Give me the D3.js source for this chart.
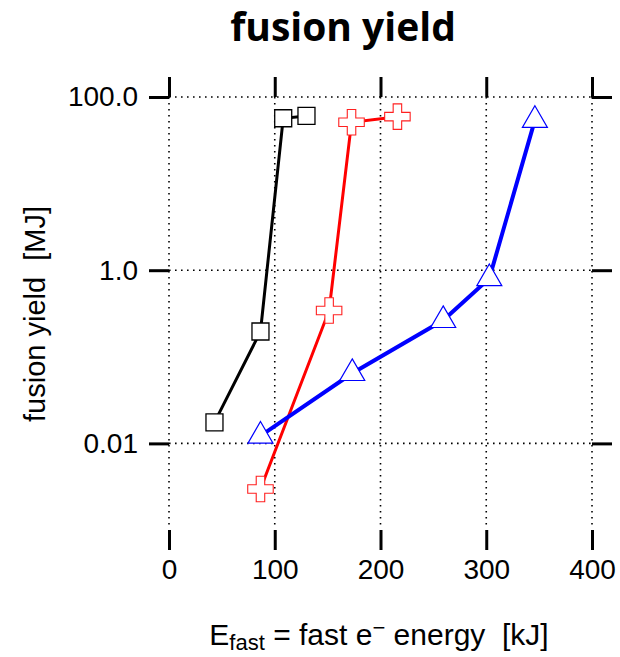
<!DOCTYPE html>
<html>
<head>
<meta charset="utf-8">
<script src="https://cdn.jsdelivr.net/npm/d3@7"></script>
<style>
  body { margin: 0; background: #fff; }
  text { font-family: "Liberation Sans", Arial, sans-serif; }
</style>
</head>
<body>
<div id="chart"></div>
<script>
// data: [E_fast kJ, yield MJ]
const blackSquares = [[43, 0.0175], [86.5, 0.196], [108, 56.8], [130, 60.4]];
const redCrosses = [[86.5, 0.00298], [151.4, 0.343], [172.6, 51.1], [216, 59.3]];
const blueTriangles = [[86.5, 0.0122], [173.3, 0.0645], [259.3, 0.264], [302.9, 0.804], [346, 54.0]];
const xTicks = [0, 100, 200, 300, 400];
const yTicks = [100, 1, 0.01];
const yTickLabels = ['100.0', '1.0', '0.01'];

const W = 620, H = 657;
const MARGIN = { TOP: 97, BOTTOM: 127, LEFT: 169, RIGHT: 28 };
const WIDTH = W - MARGIN.LEFT - MARGIN.RIGHT;
const HEIGHT = H - MARGIN.TOP - MARGIN.BOTTOM;

const svg = d3.select('#chart').append('svg')
    .attr('width', W)
    .attr('height', H);

const g = svg.append('g')
    .attr('transform', `translate(${MARGIN.LEFT}, ${MARGIN.TOP})`);

const x = d3.scaleLinear().domain([0, 400]).range([0, WIDTH]);
const y = d3.scaleLog().domain([0.001, 100]).range([HEIGHT, 0]);

// dotted grid
g.selectAll('.vgrid').data(xTicks).enter().append('line')
    .attr('x1', d => x(d)).attr('x2', d => x(d))
    .attr('y1', 0).attr('y2', HEIGHT - 4)
    .attr('stroke', '#000').attr('stroke-width', 1.6)
    .attr('stroke-dasharray', '1.6,4.4');
g.selectAll('.hgrid').data(yTicks).enter().append('line')
    .attr('x1', 0).attr('x2', WIDTH)
    .attr('y1', d => y(d)).attr('y2', d => y(d))
    .attr('stroke', '#000').attr('stroke-width', 1.6)
    .attr('stroke-dasharray', '1.6,4.4');

// axes, ticks on all four sides, no domain lines
function styleAxis(sel) {
  sel.select('.domain').remove();
  sel.selectAll('.tick line').attr('stroke', '#000').attr('stroke-width', 3);
  sel.selectAll('.tick text').attr('fill', '#000')
      .style('font-family', '"Liberation Sans", Arial, sans-serif')
      .style('font-size', '28px');
}

g.append('g')
    .attr('transform', `translate(0, ${HEIGHT})`)
    .call(d3.axisBottom(x).tickValues(xTicks).tickSize(20).tickPadding(9))
    .call(styleAxis);

g.append('g')
    .call(d3.axisTop(x).tickValues(xTicks).tickSize(20).tickFormat(''))
    .call(styleAxis);

g.append('g')
    .call(d3.axisLeft(y).tickValues(yTicks).tickSize(20).tickPadding(11)
        .tickFormat((d, i) => yTickLabels[i]))
    .call(styleAxis);

g.append('g')
    .attr('transform', `translate(${WIDTH}, 0)`)
    .call(d3.axisRight(y).tickValues(yTicks).tickSize(20).tickFormat(''))
    .call(styleAxis);

// series
const line = d3.line().x(d => x(d[0])).y(d => y(d[1]));

const series = [
  { data: blackSquares, color: '#000', width: 3, symbol: d3.symbolSquare, size: 289, stroke: '#000', sw: 1.3 },
  { data: redCrosses, color: '#ff0000', width: 3, symbol: d3.symbolCross, size: 361, stroke: '#ff2020', sw: 1.1 },
  { data: blueTriangles, color: '#0000ff', width: 4, symbol: d3.symbolTriangle, size: 270, stroke: '#0000ff', sw: 1.2 }
];

series.forEach(s => {
  g.append('path')
      .datum(s.data)
      .attr('d', line)
      .attr('fill', 'none')
      .attr('stroke', s.color)
      .attr('stroke-width', s.width);

  g.selectAll(null).data(s.data).enter().append('path')
      .attr('transform', d => `translate(${x(d[0])}, ${y(d[1])})`)
      .attr('d', d3.symbol().type(s.symbol).size(s.size))
      .attr('fill', '#fff')
      .attr('stroke', s.stroke)
      .attr('stroke-width', s.sw);
});

// title and axis labels
svg.append('text')
    .attr('x', 343).attr('y', 41)
    .attr('text-anchor', 'middle')
    .style('font-family', '"Open Sans", sans-serif')
    .style('font-weight', 'bold')
    .style('font-size', '39px')
    .text('fusion yield');

svg.append('text')
    .attr('transform', 'translate(45, 314) rotate(-90)')
    .attr('text-anchor', 'middle')
    .style('font-size', '29px')
    .style('white-space', 'pre')
    .text('fusion yield  [MJ]');

const xl = svg.append('text')
    .attr('x', 379).attr('y', 645)
    .attr('text-anchor', 'middle')
    .style('font-size', '30px')
    .style('white-space', 'pre');
xl.append('tspan').text('E');
xl.append('tspan').attr('dy', 5).style('font-size', '22px').text('fast');
xl.append('tspan').attr('dy', -5).text(' = fast e');
xl.append('tspan').attr('dy', -10).style('font-size', '22px').text('\u2212');
xl.append('tspan').attr('dy', 10).text(' energy  [kJ]');
</script>
</body>
</html>
